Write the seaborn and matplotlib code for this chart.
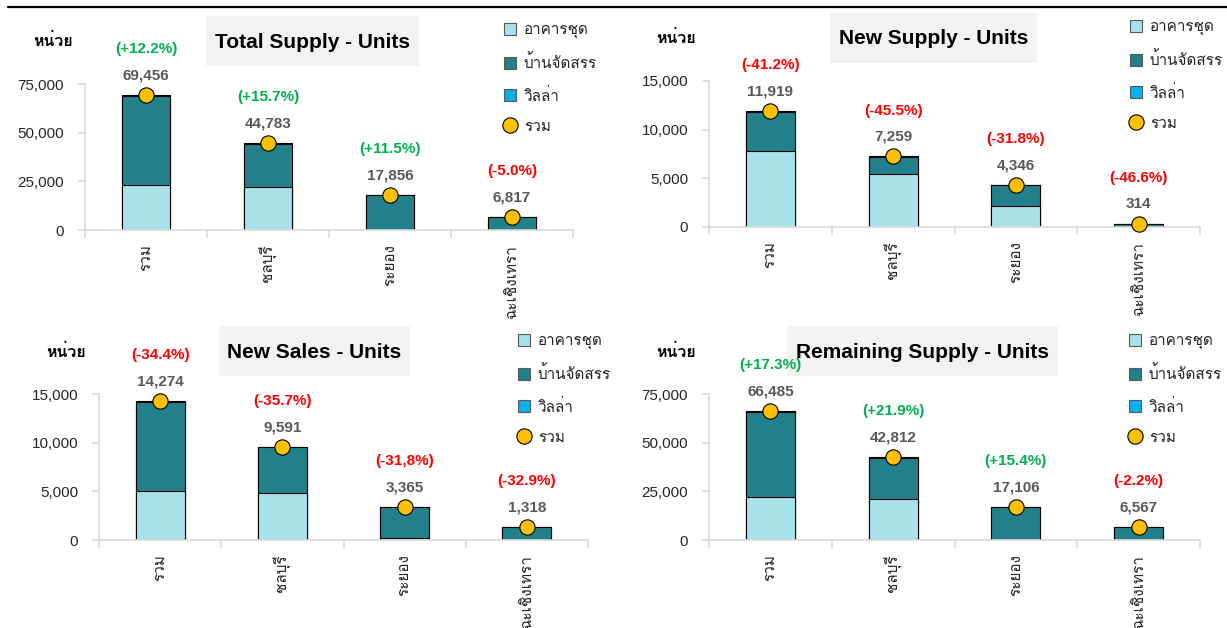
import matplotlib
matplotlib.use("Agg")
import matplotlib.pyplot as plt
from matplotlib import font_manager, ft2font
from matplotlib.patches import Patch, Rectangle
from matplotlib.lines import Line2D
import pandas as pd
import seaborn as sns

# ---- data ----
cats = ['รวม', 'ชลบุรี', 'ระยอง', 'ฉะเชิงเทรา']
legend_labels = ['อาคารชุด', 'บ้านจัดสรร', 'วิลล่า', 'รวม']

ts_total = [69456, 44783, 17856, 6817]
ts_condo = [23100, 22100, 200, 0]
ts_villa = [500, 450, 0, 0]
ts_pct = ['(+12.2%)', '(+15.7%)', '(+11.5%)', '(-5.0%)']

ns_total = [11919, 7259, 4346, 314]
ns_condo = [7800, 5450, 2150, 0]
ns_villa = [100, 80, 0, 0]
ns_pct = ['(-41.2%)', '(-45.5%)', '(-31.8%)', '(-46.6%)']

sales_total = [14274, 9591, 3365, 1318]
sales_condo = [5060, 4830, 170, 0]
sales_villa = [100, 80, 0, 0]
sales_pct = ['(-34.4%)', '(-35.7%)', '(-31,8%)', '(-32.9%)']

rs_total = [66485, 42812, 17106, 6567]
rs_condo = [22250, 21200, 0, 0]
rs_villa = [500, 500, 0, 0]
rs_pct = ['(+17.3%)', '(+21.9%)', '(+15.4%)', '(-2.2%)']

C_CONDO = '#A7E2EA'
C_HOUSE = '#21808A'
C_VILLA = '#00B0F0'
C_DOT = '#FFC000'
C_UP = '#00B050'
C_DOWN = '#FF0000'
C_AXIS = '#D9D9D9'

W, H = 1227, 628


def thai_family():
    for f in font_manager.fontManager.ttflist:
        try:
            cmap = ft2font.FT2Font(f.fname).get_charmap()
        except Exception:
            continue
        if 0x0E01 in cmap:
            return f.name
    return None


sns.set_style("white")
fams = ['Liberation Sans']
th = thai_family()
if th:
    fams.append(th)
fams.append('DejaVu Sans')
plt.rcParams['font.family'] = fams

fig = plt.figure(figsize=(W / 100, H / 100), dpi=100)


def px(x, y):
    return x / W, 1 - y / H


def draw_panel(rect, title, totals, condo, villa, pcts, ymax, yticks,
               box, ylab_xy, leg_xy):
    x0, y0, x1, y1 = rect
    ax = fig.add_axes([x0 / W, 1 - y1 / H, (x1 - x0) / W, (y1 - y0) / H])
    df = pd.DataFrame({'area': cats, 'total': totals, 'condo': condo, 'villa': villa})
    df['base'] = df['total'] - df['villa']
    kw = dict(x='area', width=0.4, edgecolor='black', linewidth=0.8,
              saturation=1, ax=ax)
    # stacked: draw cumulative heights back to front
    sns.barplot(data=df, y='total', color=C_VILLA, **kw)
    sns.barplot(data=df, y='base', color=C_HOUSE, **kw)
    sns.barplot(data=df, y='condo', color=C_CONDO, **kw)
    sns.stripplot(data=df, x='area', y='total', jitter=False, color=C_DOT,
                  size=11, edgecolor='black', linewidth=0.8, ax=ax, zorder=5)
    for c in ax.collections:
        c.set_clip_on(False)

    for i, (t, p) in enumerate(zip(totals, pcts)):
        ax.annotate(f'{t:,}', (i, t), xytext=(0, 14), textcoords='offset points',
                    ha='center', va='center', fontsize=11,
                    fontweight='bold', color='#595959')
        ax.annotate(p, (i, t), xytext=(0, 33), textcoords='offset points',
                    ha='center', va='center', fontsize=11,
                    fontweight='bold', color=C_UP if p.startswith('(+') else C_DOWN)

    ax.set_xlim(-0.5, 3.5)
    ax.set_ylim(0, ymax)
    ax.set_yticks(yticks)
    ax.set_yticklabels([f'{v:,}' for v in yticks])
    ax.set_xlabel('')
    ax.set_ylabel('')
    for s in ['top', 'right']:
        ax.spines[s].set_visible(False)
    for s in ['left', 'bottom']:
        ax.spines[s].set_color(C_AXIS)
        ax.spines[s].set_linewidth(1.2)
    ax.tick_params(axis='y', length=5, color=C_AXIS, width=1.2, labelsize=11,
                   pad=10, left=True)
    ax.set_xticks([-0.5, 0.5, 1.5, 2.5, 3.5], minor=True)
    ax.tick_params(axis='x', which='minor', length=6, color=C_AXIS, width=1.2,
                   bottom=True)
    ax.tick_params(axis='x', which='major', length=0, pad=10, labelsize=11)
    plt.setp(ax.get_xticklabels(), rotation=90, va='top', ha='center')

    # title box
    bx0, by0, bx1, by1 = box
    fig.add_artist(Rectangle(px(bx0, by1), (bx1 - bx0) / W, (by1 - by0) / H,
                             transform=fig.transFigure, facecolor='#F2F2F2',
                             edgecolor='none', zorder=0))
    fig.text(*px((bx0 + bx1) / 2, (by0 + by1) / 2 + 1), title, ha='center',
             va='center', fontsize=15, fontweight='bold', color='black')
    fig.text(*px(*ylab_xy), 'หน่วย', ha='center', va='center', fontsize=11.5,
             fontweight='bold', color='black')

    handles = [Patch(facecolor=C_CONDO, edgecolor='#595959', linewidth=0.8),
               Patch(facecolor=C_HOUSE, edgecolor='#595959', linewidth=0.8),
               Patch(facecolor=C_VILLA, edgecolor='#595959', linewidth=0.8),
               Line2D([], [], marker='o', ls='none', markerfacecolor=C_DOT,
                      markeredgecolor='black', markeredgewidth=0.8, markersize=11)]
    ax.legend(handles, legend_labels, loc='upper left', bbox_to_anchor=px(*leg_xy),
              bbox_transform=fig.transFigure, frameon=False, fontsize=11,
              handlelength=0.8, handleheight=0.8, handletextpad=0.5,
              labelspacing=1.05, borderpad=0, borderaxespad=0)
    return ax


# panel rects in pixels: (axis left, 75k/15k top, axis right, zero line)
draw_panel((85, 84, 573, 230), 'Total Supply - Units',
           ts_total, ts_condo, ts_villa, ts_pct, 75000, [0, 25000, 50000, 75000],
           (206, 16, 419, 66), (53, 41), (504, 23))
draw_panel((709, 81, 1200, 227), 'New Supply - Units',
           ns_total, ns_condo, ns_villa, ns_pct, 15000, [0, 5000, 10000, 15000],
           (830, 13, 1037, 63), (676, 38), (1130, 20))
draw_panel((99, 394, 588, 540), 'New Sales - Units',
           sales_total, sales_condo, sales_villa, sales_pct, 15000,
           [0, 5000, 10000, 15000],
           (219, 326, 410, 376), (66, 352), (518, 334))
draw_panel((709, 394, 1200, 540), 'Remaining Supply - Units',
           rs_total, rs_condo, rs_villa, rs_pct, 75000, [0, 25000, 50000, 75000],
           (787, 326, 1058, 376), (676, 352), (1129, 334))

# header rule
fig.add_artist(Line2D([8 / W, 1], [1 - 7 / H, 1 - 7 / H], transform=fig.transFigure,
                      color='black', linewidth=1.6))

fig.savefig('out.png', dpi=100)
